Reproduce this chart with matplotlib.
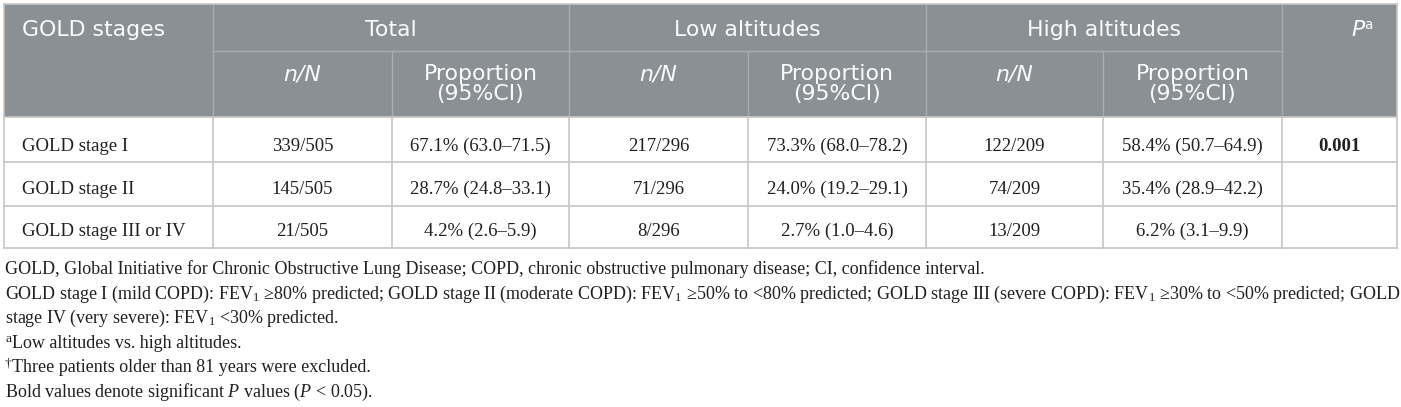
import matplotlib
matplotlib.use("Agg")
import matplotlib.pyplot as plt
from matplotlib.patches import Rectangle

plt.rcParams['mathtext.fontset'] = 'custom'
plt.rcParams['mathtext.rm'] = 'Liberation Serif'
plt.rcParams['mathtext.it'] = 'Liberation Serif:italic'
plt.rcParams['mathtext.bf'] = 'Liberation Serif:bold'

# table content
groups = ["Total", "Low altitudes", "High altitudes"]
stages = ["GOLD stage I", "GOLD stage II", "GOLD stage III or IV"]
total_n = [339, 145, 21]
total_N = 505
total_pct = [67.1, 28.7, 4.2]
total_lo = [63.0, 24.8, 2.6]
total_hi = [71.5, 33.1, 5.9]
low_n = [217, 71, 8]
low_N = 296
low_pct = [73.3, 24.0, 2.7]
low_lo = [68.0, 19.2, 1.0]
low_hi = [78.2, 29.1, 4.6]
high_n = [122, 74, 13]
high_N = 209
high_pct = [58.4, 35.4, 6.2]
high_lo = [50.7, 28.9, 3.1]
high_hi = [64.9, 42.2, 9.9]
p_values = ["0.001", "", ""]

footnotes = [
    "GOLD, Global Initiative for Chronic Obstructive Lung Disease; COPD, chronic obstructive pulmonary disease; CI, confidence interval.",
    "GOLD stage I (mild COPD): FEV$_1$ \u226580% predicted; GOLD stage II (moderate COPD): FEV$_1$ \u226550% to <80% predicted; "
    "GOLD stage III (severe COPD): FEV$_1$ \u226530% to <50% predicted; GOLD",
    "stage IV (very severe): FEV$_1$ <30% predicted.",
    "Low altitudes vs. high altitudes.",
    "Three patients older than 81 years were excluded.",
    "Bold values denote significant $P$ values ($P$ < 0.05).",
]
foot_marks = ["", "", "", "a", "\u2020", ""]

HEAD_BG = '#8a9094'
HEAD_LINE = '#a7acaf'
GRID = '#c6c6c6'
INK = '#231f20'
SANS = 'DejaVu Sans'
SERIF = 'Liberation Serif'

fig = plt.figure(figsize=(14.01, 4.07), dpi=100)
ax = fig.add_axes([0, 0, 1, 1])
ax.set_xlim(0, 1401)
ax.set_ylim(407, 0)
ax.axis('off')

# column edges (pixels)
xs = [4, 213, 392, 569, 748, 926, 1103, 1282, 1397]
y_top, y_mid, y_head = 4, 51, 117
row_lines = [117, 162, 206, 248]
row_base = [151, 194, 236]

# header
ax.add_patch(Rectangle((xs[0], y_top), xs[-1] - xs[0], y_head - y_top,
                       facecolor=HEAD_BG, edgecolor='none'))
for i, x in enumerate(xs[1:-1]):
    y0 = y_top if i % 2 == 0 else y_mid
    ax.plot([x, x], [y0, y_head], color=HEAD_LINE, lw=1.0)
ax.plot([xs[1], xs[7]], [y_mid, y_mid], color=HEAD_LINE, lw=1.0)

hs = 15.8
hc = '#fbfbfb'
ax.text(22, 36, "GOLD stages", fontsize=hs, family=SANS, color=hc, va='baseline')
for g, name in enumerate(groups):
    cx = (xs[1 + 2 * g] + xs[3 + 2 * g]) / 2
    ax.text(cx, 36, name, fontsize=hs, family=SANS, color=hc, ha='center', va='baseline')
    c1 = (xs[1 + 2 * g] + xs[2 + 2 * g]) / 2
    c2 = (xs[2 + 2 * g] + xs[3 + 2 * g]) / 2
    ax.text(c1, 80, "n/N", fontsize=hs, family=SANS, style='italic', color=hc,
            ha='center', va='baseline')
    ax.text(c2, 80, "Proportion", fontsize=hs, family=SANS, color=hc, ha='center', va='baseline')
    ax.text(c2, 100, "(95%CI)", fontsize=hs, family=SANS, color=hc, ha='center', va='baseline')
ax.text(1351, 36, "P", fontsize=hs, family=SANS, style='italic', color=hc, va='baseline')
ax.text(1364, 29, "a", fontsize=hs * 0.62, family=SANS, color=hc, va='baseline')

# body grid
for y in row_lines:
    ax.plot([xs[0], xs[-1]], [y, y], color=GRID, lw=1.2)
for x in xs:
    y0 = y_top if x in (xs[0], xs[-1]) else row_lines[0]
    ax.plot([x, x], [y0, row_lines[-1]], color=GRID, lw=1.2)
ax.plot([xs[0], xs[-1]], [y_top, y_top], color=GRID, lw=1.2)

bs = 13.5
cols = [
    (total_n, total_N, total_pct, total_lo, total_hi),
    (low_n, low_N, low_pct, low_lo, low_hi),
    (high_n, high_N, high_pct, high_lo, high_hi),
]
for r in range(len(stages)):
    yb = row_base[r]
    ax.text(22, yb, stages[r], fontsize=bs, family=SERIF, color=INK, va='baseline')
    for g, (n, N, pct, lo, hi) in enumerate(cols):
        c1 = (xs[1 + 2 * g] + xs[2 + 2 * g]) / 2
        c2 = (xs[2 + 2 * g] + xs[3 + 2 * g]) / 2
        ax.text(c1, yb, f"{n[r]}/{N}", fontsize=bs, family=SERIF, color=INK,
                ha='center', va='baseline')
        ax.text(c2, yb, f"{pct[r]:.1f}% ({lo[r]:.1f}\u2013{hi[r]:.1f})", fontsize=bs,
                family=SERIF, color=INK, ha='center', va='baseline')
    ax.text((xs[7] + xs[8]) / 2, yb, p_values[r], fontsize=bs, family=SERIF,
            weight='bold', color=INK, ha='center', va='baseline')

# footnotes
fs = 11.2
probe = ax.text(5, 274, footnotes[0], fontsize=fs, family=SERIF, color=INK, va='baseline')
fig.canvas.draw()
w = probe.get_window_extent(fig.canvas.get_renderer()).width
fs = fs * 980 / w
probe.remove()

foot_base = [274, 299, 323, 348, 372, 397]
for line, mark, yb in zip(footnotes, foot_marks, foot_base):
    x0 = 5
    if mark:
        ax.text(x0, yb - 6, mark, fontsize=fs * 0.75, family=SERIF, color=INK, va='baseline')
        x0 = 12
    ax.text(x0, yb, line, fontsize=fs, family=SERIF, color=INK, va='baseline')

fig.savefig("out.png", dpi=100, facecolor='white')
